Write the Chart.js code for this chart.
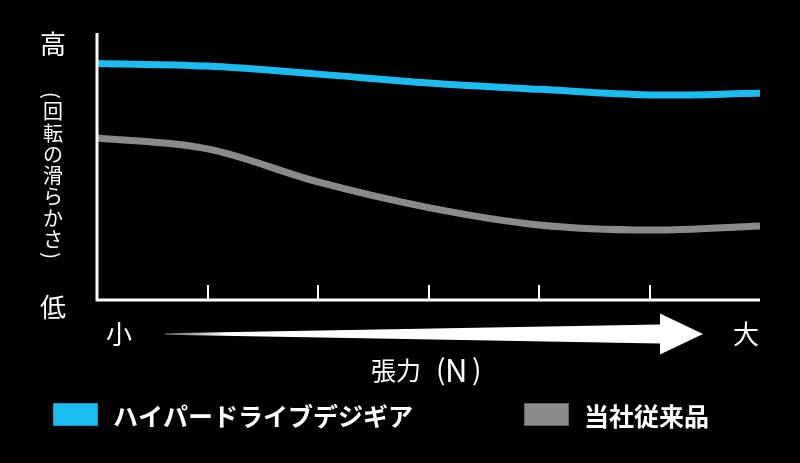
<!DOCTYPE html>
<html>
<head>
<meta charset="utf-8">
<script src="https://cdn.jsdelivr.net/npm/chart.js@4"></script>
<style>
  html, body { margin: 0; padding: 0; background: #000; }
  #wrap { width: 800px; height: 463px; position: relative; }
</style>
</head>
<body>
<div id="wrap"><canvas id="chart"></canvas></div>
<script>
// positions along the tension axis (0 = 小, 6 = 大)
const tensionSteps = [0, 1, 2, 3, 4, 5, 6];
// smoothness of rotation, 0 = 低, 100 = 高
const hyperDriveValues = [88.6, 87.6, 84.6, 81.3, 78.9, 76.8, 77.4];
const conventionalValues = [60.7, 56.6, 44.2, 34.6, 28.1, 26.2, 27.7];
const tickSteps = [1, 2, 3, 4, 5];
const seriesLabels = ['ハイパードライブデジギア', '当社従来品'];

const JP = '"Noto Sans CJK JP", "Noto Sans", sans-serif';

// axes, arrow, labels and legend drawn on top of the chart area
const decorations = {
    id: 'decorations',
    beforeDraw(chart) {
        const ctx = chart.ctx;
        ctx.save();
        ctx.fillStyle = '#000';
        ctx.fillRect(0, 0, chart.width, chart.height);
        ctx.restore();
    },
    afterDraw(chart) {
        const ctx = chart.ctx;
        const a = chart.chartArea;
        const xs = chart.scales.x;
        ctx.save();

        // axis lines
        ctx.strokeStyle = '#fff';
        ctx.lineWidth = 3;
        ctx.beginPath();
        ctx.moveTo(a.left, a.top);
        ctx.lineTo(a.left, a.bottom);
        ctx.lineTo(a.right, a.bottom);
        ctx.stroke();

        // tick marks pointing up into the plot
        ctx.lineWidth = 2;
        tickSteps.forEach(v => {
            const px = Math.round(xs.getPixelForValue(v));
            ctx.beginPath();
            ctx.moveTo(px, a.bottom);
            ctx.lineTo(px, a.bottom - 15);
            ctx.stroke();
        });

        // arrow under the x axis
        const ay = a.bottom + 34;
        const x0 = a.left + 68, xb = a.left + 563, xt = a.left + 606;
        const grad = ctx.createLinearGradient(x0, 0, x0 + 60, 0);
        grad.addColorStop(0, 'rgba(255,255,255,0.35)');
        grad.addColorStop(1, '#fff');
        ctx.fillStyle = grad;
        ctx.beginPath();
        ctx.moveTo(x0, ay - 0.8);
        ctx.lineTo(xb, ay - 9.5);
        ctx.lineTo(xb, ay - 20.5);
        ctx.lineTo(xt, ay);
        ctx.lineTo(xb, ay + 20.5);
        ctx.lineTo(xb, ay + 9.5);
        ctx.lineTo(x0, ay + 0.8);
        ctx.closePath();
        ctx.fill();

        // text
        ctx.fillStyle = '#fff';
        ctx.textBaseline = 'middle';
        ctx.textAlign = 'center';
        ctx.font = '26px ' + JP;
        ctx.fillText('高', 53, 44);
        ctx.fillText('低', 53, 307);
        ctx.fillText('小', 119, ay);
        ctx.fillText('大', 746, ay);

        ctx.textAlign = 'left';
        ctx.font = '25px ' + JP;
        ctx.fillText('張力', 371, 370);
        ctx.font = '28px ' + JP;
        ctx.fillText('(', 436, 369);
        ctx.fillText(')', 472, 369);
        ctx.font = '31px ' + JP;
        ctx.fillText('N', 445, 370);

        // vertical axis caption
        ctx.font = '20px ' + JP;
        ctx.textAlign = 'center';
        const vert = ['（', '回', '転', 'の', '滑', 'ら', 'か', 'さ', '）'];
        let y = 90;
        vert.forEach(ch => {
            const isParen = ch === '（' || ch === '）';
            const h = isParen ? 11 : 21.3;
            const cy = y + h / 2;
            if (isParen) {
                ctx.save();
                ctx.translate(53, cy);
                ctx.rotate(Math.PI / 2);
                ctx.fillText(ch === '（' ? '(' : ')', 0, 1);
                ctx.restore();
            } else {
                ctx.fillText(ch, 53, cy);
            }
            y += h;
        });

        // legend
        const legend = [
            { box: 53, text: 113, ds: chart.data.datasets[0], edge: '#1595c0' },
            { box: 524, text: 584, ds: chart.data.datasets[1], edge: '#666' }
        ];
        ctx.font = 'bold 25px ' + JP;
        ctx.textAlign = 'left';
        legend.forEach(item => {
            ctx.fillStyle = item.ds.borderColor;
            ctx.fillRect(item.box, 403, 45, 23);
            ctx.strokeStyle = item.edge;
            ctx.lineWidth = 1;
            ctx.strokeRect(item.box + 0.5, 403.5, 44, 22);
            ctx.fillStyle = '#fff';
            ctx.fillText(item.ds.label, item.text, 416);
        });

        ctx.restore();
    }
};

new Chart(document.getElementById('chart'), {
    type: 'line',
    data: {
        labels: tensionSteps,
        datasets: [
            {
                label: seriesLabels[0],
                data: tensionSteps.map((x, i) => ({ x, y: hyperDriveValues[i] })),
                borderColor: '#1bbcf0',
                borderWidth: 7,
                pointRadius: 0,
                tension: 0.35
            },
            {
                label: seriesLabels[1],
                data: tensionSteps.map((x, i) => ({ x, y: conventionalValues[i] })),
                borderColor: '#8a8a8a',
                borderWidth: 7,
                pointRadius: 0,
                tension: 0.35
            }
        ]
    },
    options: {
        responsive: true,
        maintainAspectRatio: false,
        animation: false,
        layout: {
            padding: { left: 97, right: 40, top: 33, bottom: 163 }
        },
        scales: {
            x: { type: 'linear', min: 0, max: 6, display: false },
            y: { min: 0, max: 100, display: false }
        },
        plugins: {
            legend: { display: false },
            tooltip: { enabled: false }
        }
    },
    plugins: [decorations]
});
</script>
</body>
</html>
